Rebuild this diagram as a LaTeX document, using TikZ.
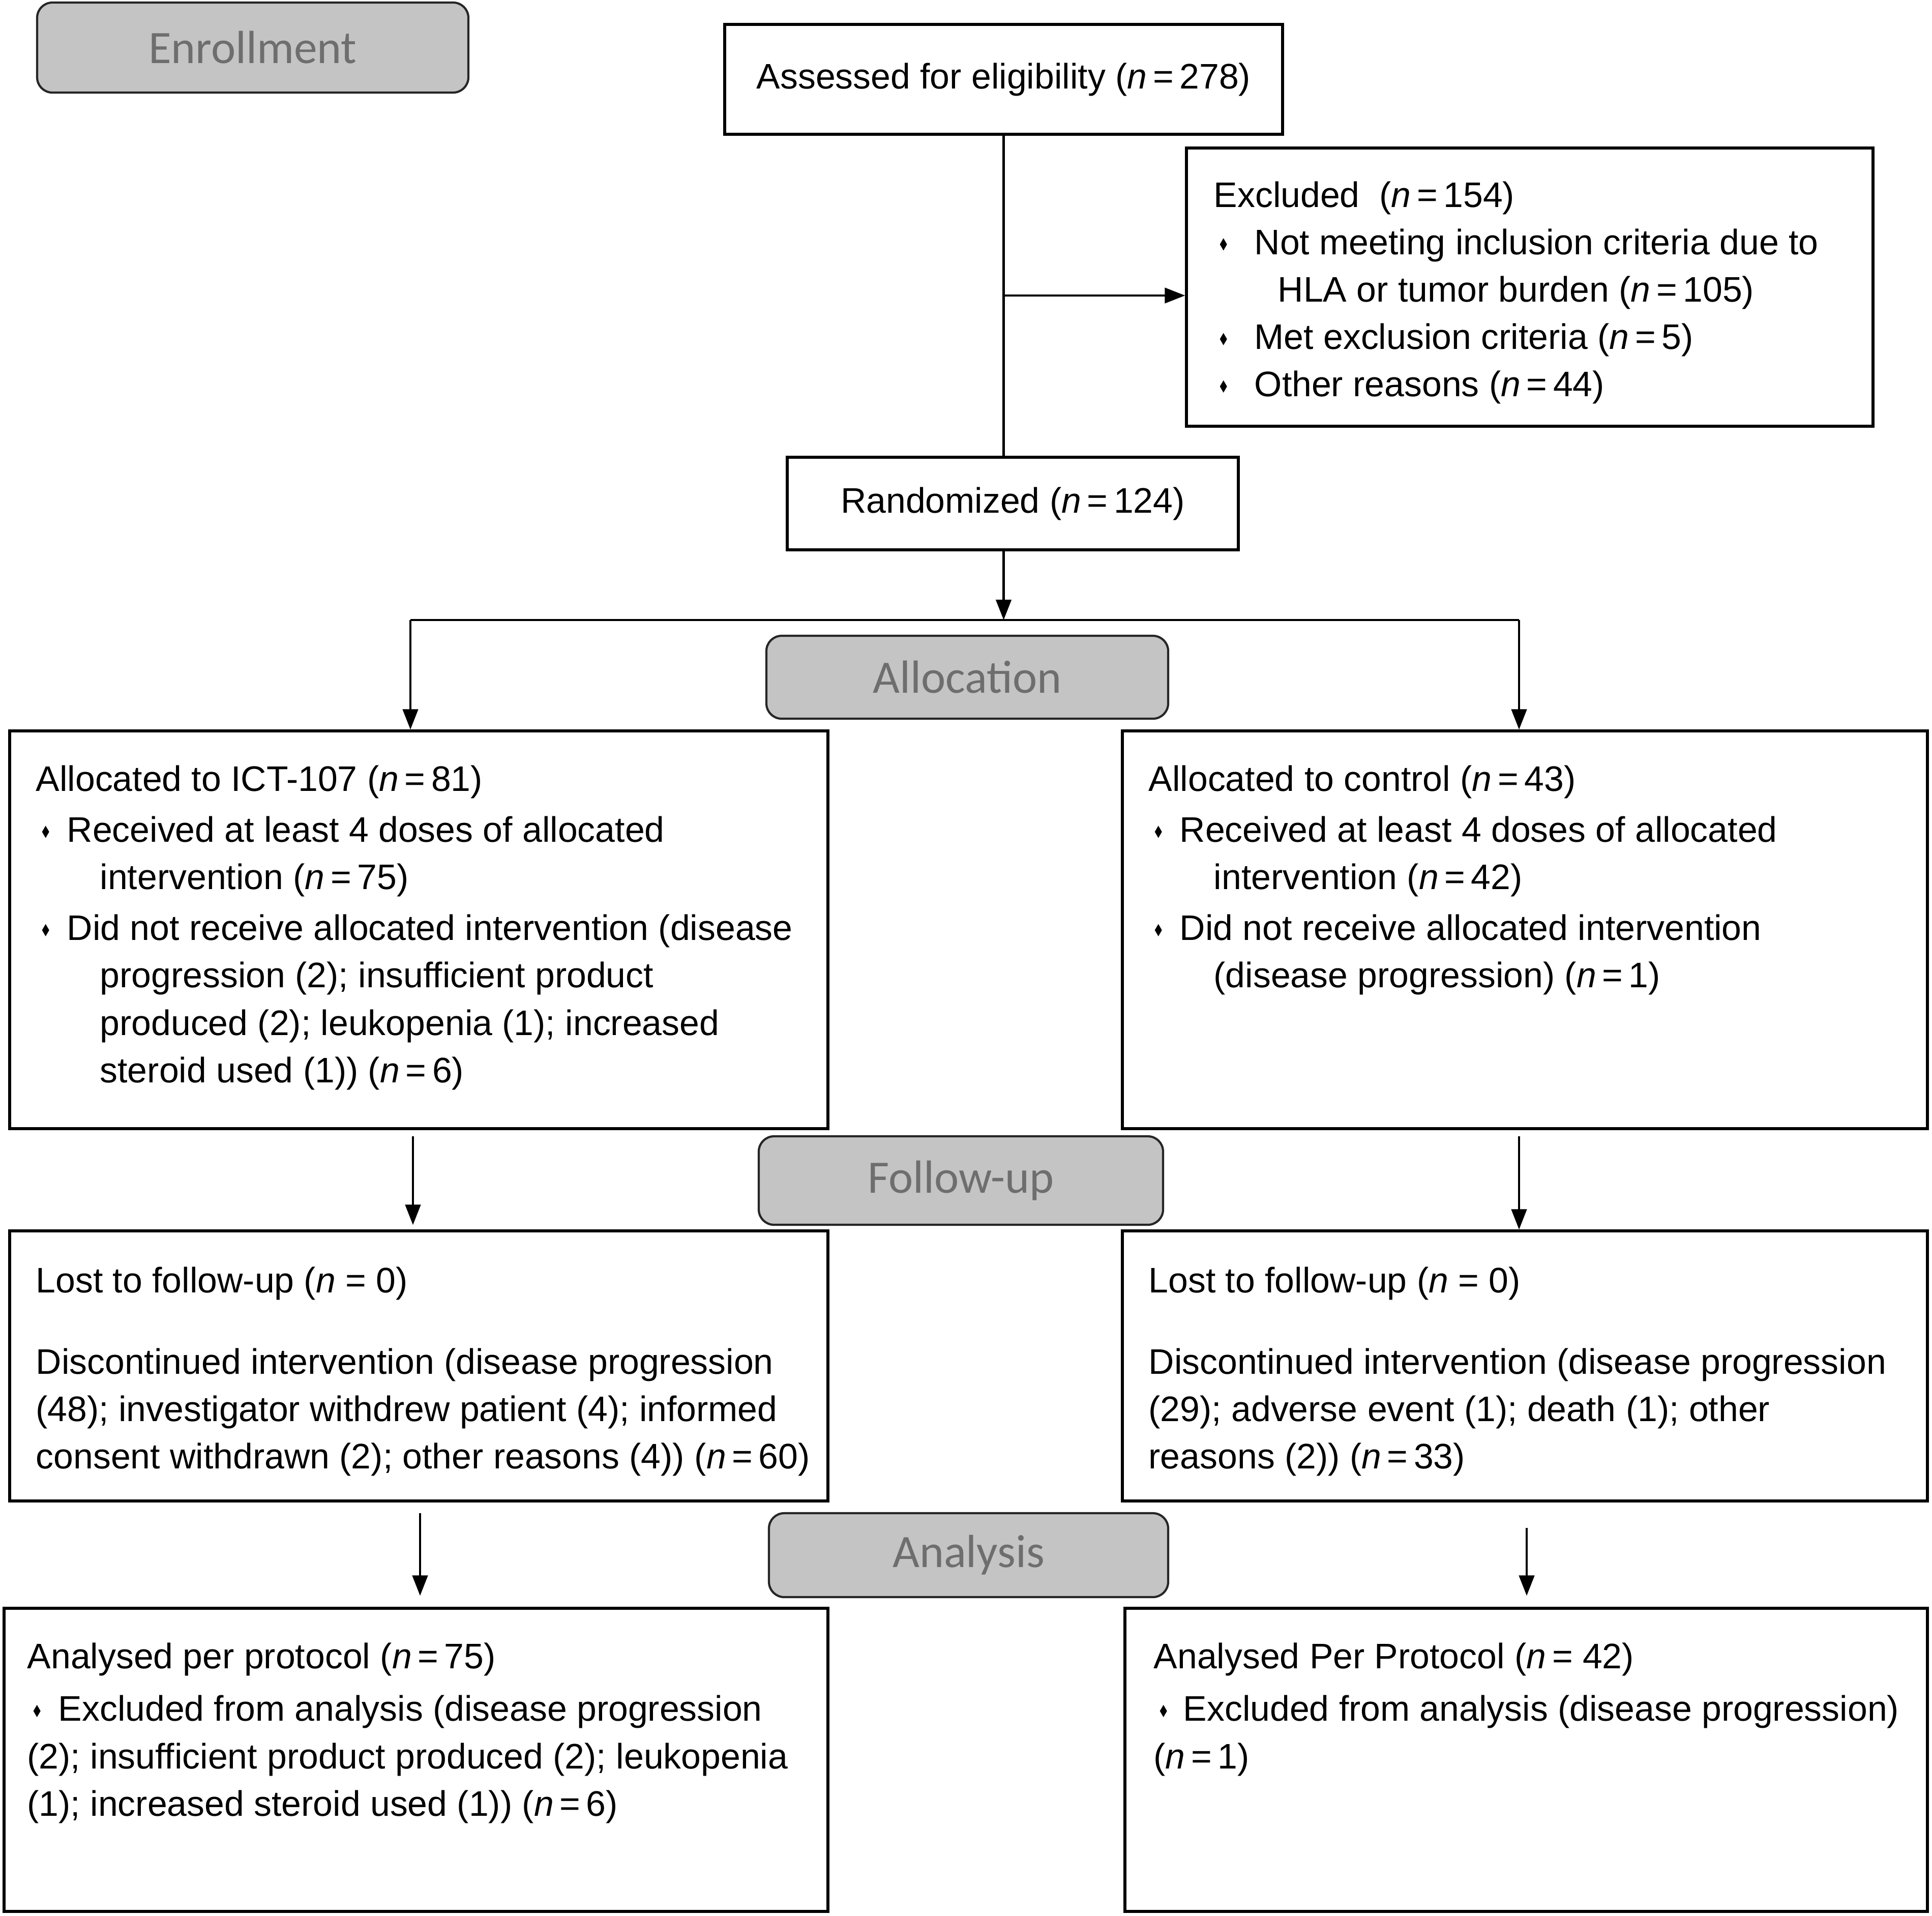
\documentclass[tikz,border=0pt]{standalone}
\usepackage{fontspec}
\setmainfont{Liberation Sans}
\newfontfamily\stagefont{Carlito}
\usetikzlibrary{positioning,arrows.meta,calc}
\definecolor{stagefill}{HTML}{C4C4C4}
\definecolor{stagetext}{HTML}{6E6E6E}
\newcommand{\nn}[1]{(\textit{n}\,=\,#1)}
\newcommand{\bul}[1]{\makebox[#1][l]{\hspace*{0.12cm}\tikz[baseline=-0.08cm]\fill (0,0)--(0.07,0.12)--(0,0.24)--(-0.07,0.12)--cycle;}}
\tikzset{
box/.style={draw, line width=1.5pt, rectangle, inner sep=0pt},
stage/.style={draw=black!85, line width=1.2pt, fill=stagefill, rounded corners=0.3cm,
  text=stagetext, font=\stagefont\fontsize{26pt}{30pt}\selectfont},
txt/.style={anchor=north west, align=left, inner sep=0pt, font=\fontsize{19.85pt}{26.5pt}\selectfont},
arr/.style={-{Triangle[length=0.4cm,width=0.3cm]}, line width=1.3pt},
}
\begin{document}
\begin{tikzpicture}
\useasboundingbox (0,0) rectangle (37.99,-37.66);
\node[stage, minimum width=8.48cm, minimum height=1.77cm] (enroll) at (4.97,-0.935) {Enrollment};
\node[stage, minimum width=7.9cm, minimum height=1.63cm] (alloc) at (19.02,-13.315) {Allocation};
\node[stage, minimum width=7.95cm, minimum height=1.74cm] (fup) at (18.895,-23.21) {Follow-up};
\node[stage, minimum width=7.85cm, minimum height=1.65cm] (anal) at (19.045,-30.575) {Analysis};

\node[box, minimum width=10.97cm, minimum height=2.16cm, font=\fontsize{19.85pt}{26.5pt}\selectfont] (assess) at (19.735,-1.56) {Assessed for eligibility \nn{278}};
\node[box, minimum width=13.5cm, minimum height=5.47cm] (excl) at (30.08,-5.645) {};
\node[box, minimum width=8.87cm, minimum height=1.82cm, font=\fontsize{19.85pt}{26.5pt}\selectfont] (rand) at (19.915,-9.9) {Randomized \nn{124}};
\node[box, minimum width=16.09cm, minimum height=7.82cm] (ict) at (8.235,-18.28) {};
\node[box, minimum width=15.83cm, minimum height=7.82cm] (ctrl) at (29.985,-18.28) {};
\node[box, minimum width=16.09cm, minimum height=5.31cm] (lostL) at (8.235,-26.855) {};
\node[box, minimum width=15.83cm, minimum height=5.31cm] (lostR) at (29.985,-26.855) {};
\node[box, minimum width=16.2cm, minimum height=5.96cm] (anaL) at (8.18,-34.6) {};
\node[box, minimum width=15.78cm, minimum height=5.96cm] (anaR) at (30.01,-34.6) {};

\node[txt] (excltxt) at (23.86,-3.56) {Excluded\ \ \nn{154}\\
\bul{0.80cm}Not meeting inclusion criteria due to\\
\hspace*{1.26cm}HLA or tumor burden \nn{105}\\
\bul{0.80cm}Met exclusion criteria \nn{5}\\
\bul{0.80cm}Other reasons \nn{44}};
\node[txt] (icttxt) at (0.70,-15.04) {Allocated to ICT-107 \nn{81}\\[2pt]
\bul{0.61cm}Received at least 4 doses of allocated\\
\hspace*{1.26cm}intervention \nn{75}\\[2pt]
\bul{0.61cm}Did not receive allocated intervention (disease\\
\hspace*{1.26cm}progression (2); insufficient product\\
\hspace*{1.26cm}produced (2); leukopenia (1); increased\\
\hspace*{1.26cm}steroid used (1)) \nn{6}};
\node[txt] (ctrltxt) at (22.58,-15.04) {Allocated to control \nn{43}\\[2pt]
\bul{0.61cm}Received at least 4 doses of allocated\\
\hspace*{1.28cm}intervention \nn{42}\\[2pt]
\bul{0.61cm}Did not receive allocated intervention\\
\hspace*{1.28cm}(disease progression) \nn{1}};
\node[txt] (lostLtxt) at (0.70,-24.90) {Lost to follow-up (\textit{n} = 0)\\[0.67cm]
Discontinued intervention (disease progression\\
(48); investigator withdrew patient (4); informed\\
consent withdrawn (2); other reasons (4)) \nn{60}};
\node[txt] (lostRtxt) at (22.58,-24.90) {Lost to follow-up (\textit{n} = 0)\\[0.67cm]
Discontinued intervention (disease progression\\
(29); adverse event (1); death (1); other\\
reasons (2)) \nn{33}};
\node[txt] (anaLtxt) at (0.53,-32.29) {Analysed per protocol \nn{75}\\[3pt]
\bul{0.61cm}Excluded from analysis (disease progression\\
(2); insufficient product produced (2); leukopenia\\
(1); increased steroid used (1)) \nn{6}};
\node[txt] (anaRtxt) at (22.68,-32.29) {Analysed Per Protocol (\textit{n}\,= 42)\\[3pt]
\bul{0.58cm}Excluded from analysis (disease progression)\\
(\textit{n}\,=\,1)};

\coordinate (exclarr) at (19.75,-5.81);
\coordinate (splitL) at (8.07,-12.19);
\coordinate (splitR) at (29.87,-12.19);
\coordinate (fupL) at (8.12,-22.34);
\coordinate (fupR) at (29.87,-22.34);
\coordinate (anaLtop) at (8.26,-29.75);
\coordinate (anaRtop) at (30.02,-30.04);

\draw[line width=1.3pt] (assess.south) -- (assess.south |- rand.north);
\draw[arr] (exclarr) -- (exclarr -| excl.west);
\draw[arr] (assess.south |- rand.south) -- (assess.south |- splitL);
\draw[line width=1.3pt] (splitL) -- (splitR);
\draw[arr] (splitL) -- (splitL |- ict.north);
\draw[arr] (splitR) -- (splitR |- ctrl.north);
\draw[arr] (fupL) -- ($(fupL |- lostL.north)+(0,0.09)$);
\draw[arr] (fupR) -- (fupR |- lostR.north);
\draw[arr] (anaLtop) -- ($(anaLtop |- anaL.north)+(0,0.22)$);
\draw[arr] (anaRtop) -- ($(anaRtop |- anaR.north)+(0,0.22)$);
\end{tikzpicture}
\end{document}
